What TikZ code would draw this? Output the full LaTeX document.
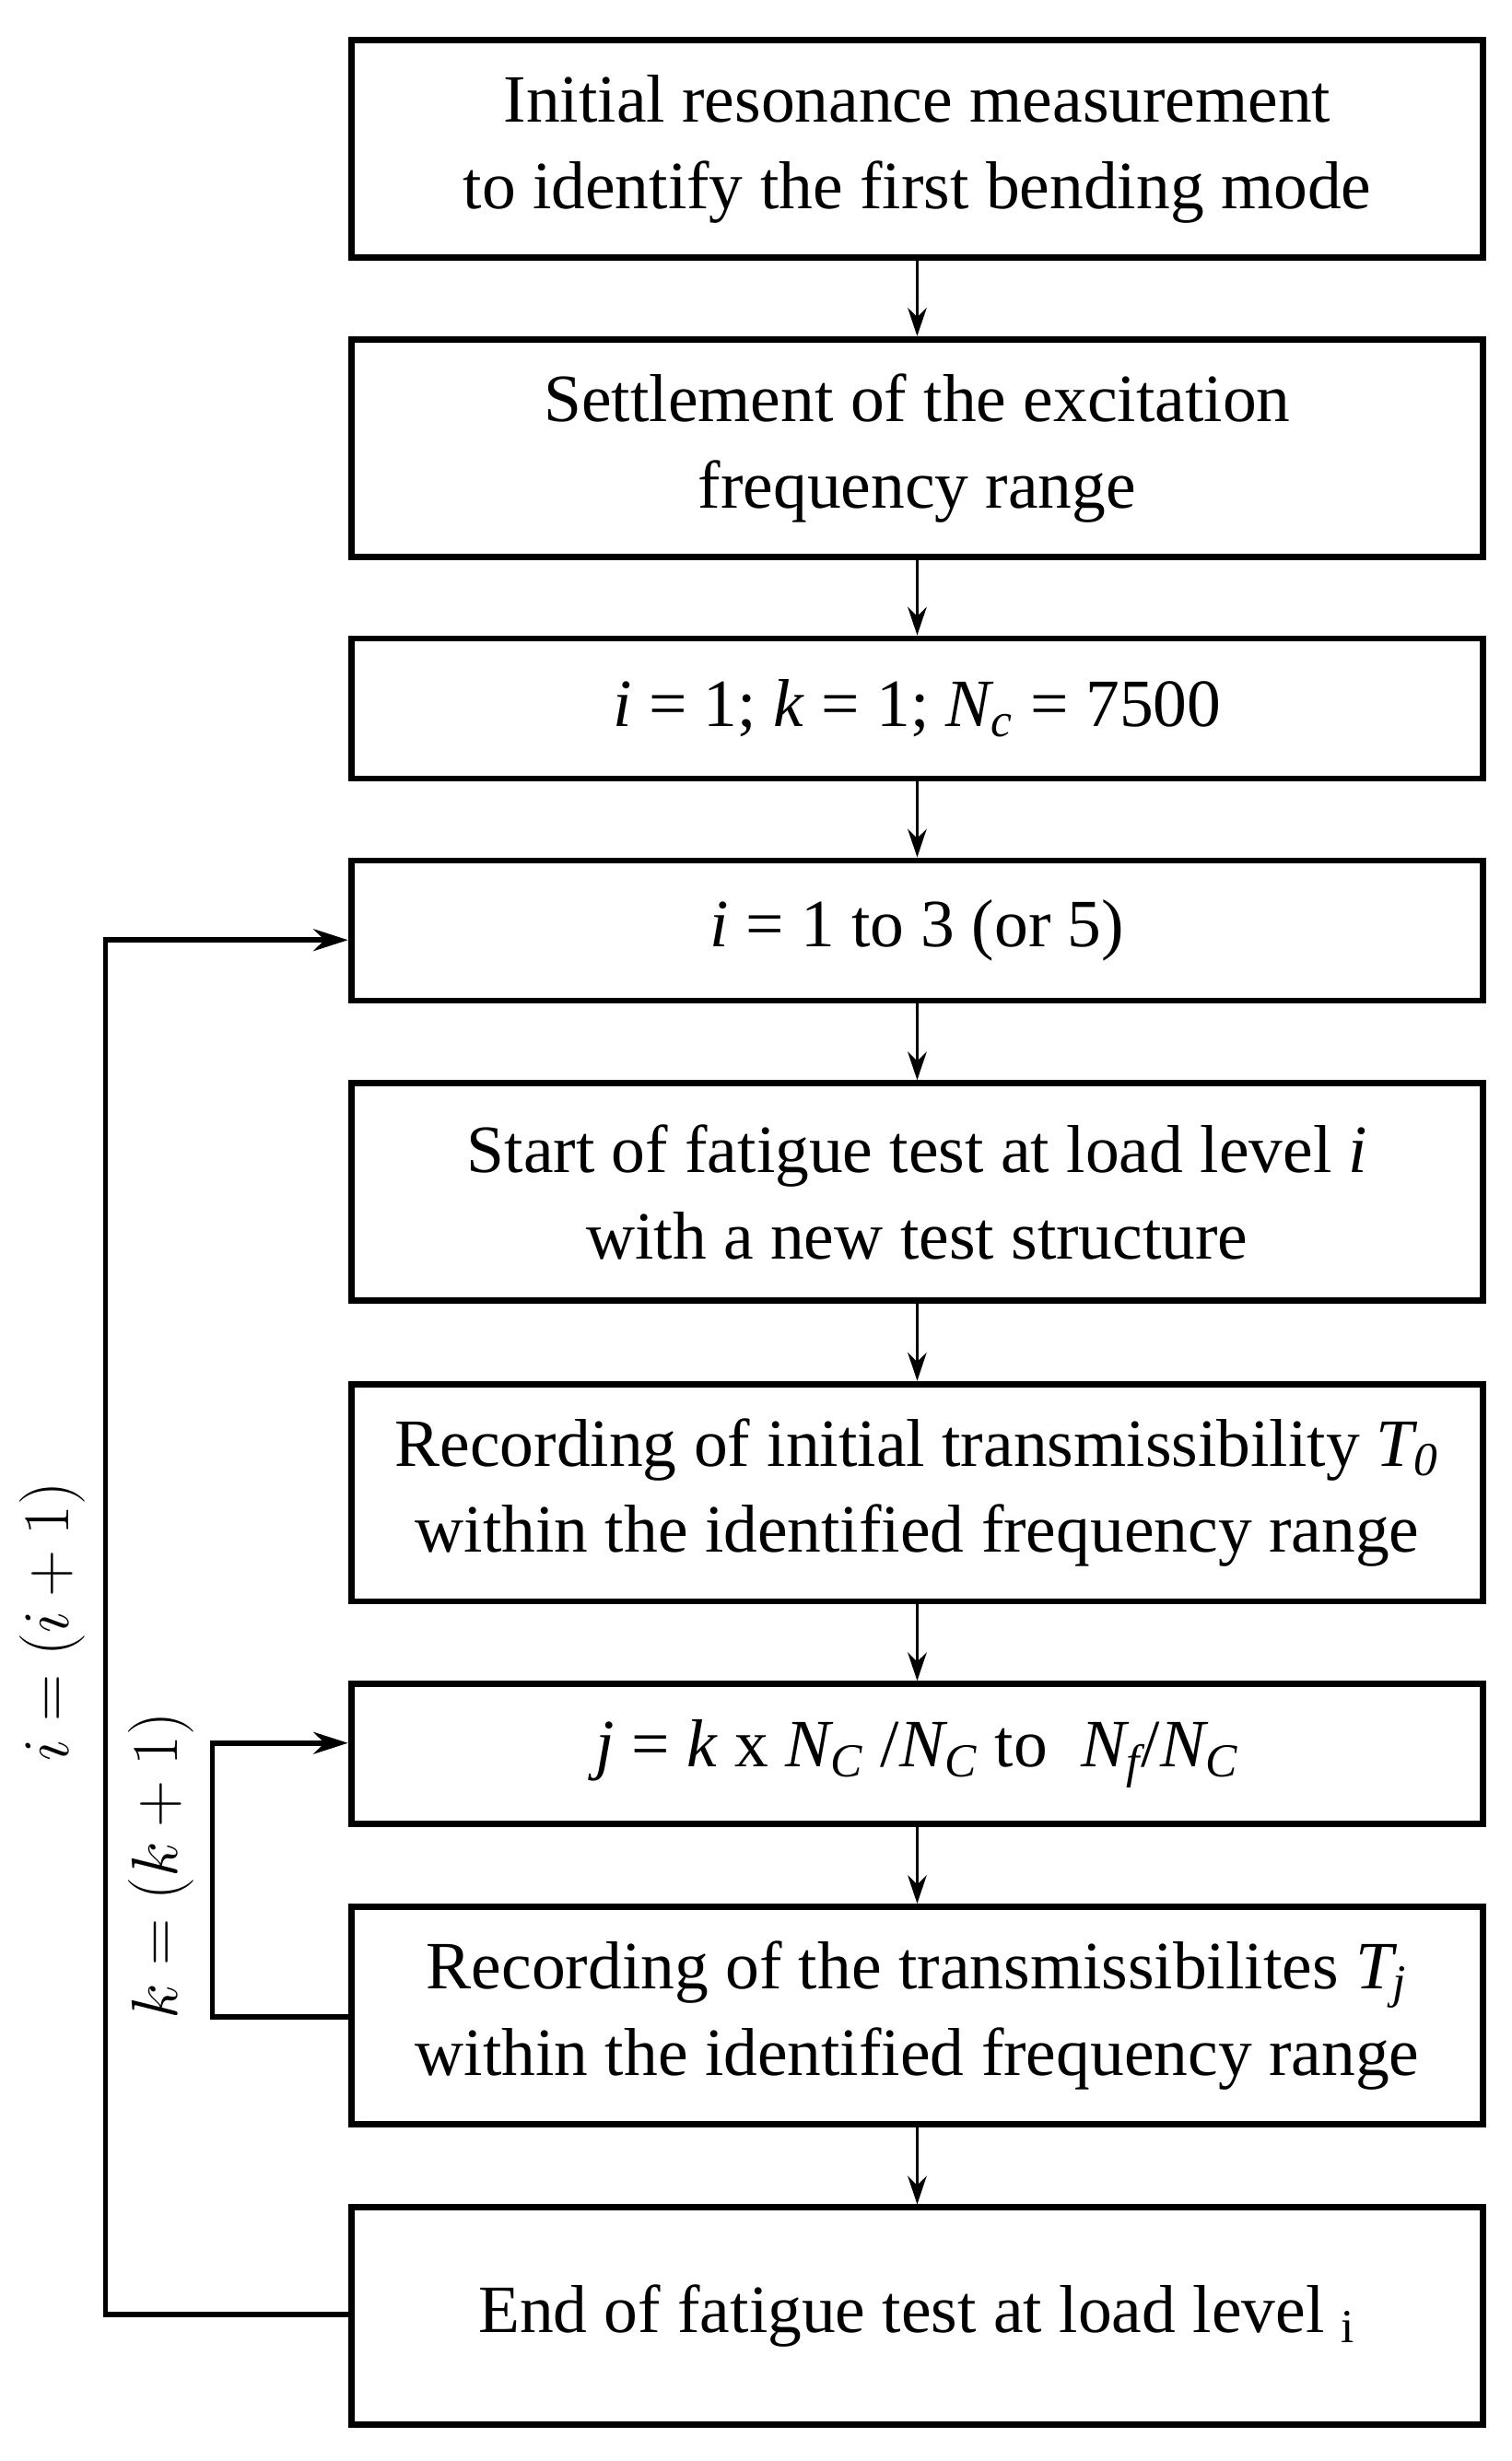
\documentclass[tikz,border=0pt]{standalone}
\usepackage{fontspec}
\setmainfont{Liberation Serif}
\usetikzlibrary{arrows.meta}
\begin{document}
\begin{tikzpicture}[x=0.5pt,y=-0.5pt,
 box/.style={draw,line width=2pt,minimum width=359.5pt,align=center,font=\fontsize{21.5}{27.5}\selectfont,inner sep=0pt},
 tall/.style={box,minimum height=69pt},
 short/.style={box,minimum height=44.5pt},
 arr/.style={-{Stealth[length=9pt,width=6pt]},line width=1pt},
 loop/.style={-{Stealth[length=11pt,width=7pt]},line width=1.6pt},
 lab/.style={font=\fontsize{20}{24}\selectfont,rotate=90}]
\useasboundingbox (0,0) rectangle (960,1563);
\node[tall] (b1) at (582.5,94.5) {Initial resonance measurement\\to identify the first bending mode};
\node[tall] (b2) at (582.5,284.5) {Settlement of the excitation\\frequency range};
\node[short] (b3) at (582.5,450) {\textit{i} = 1; \textit{k} = 1; \textit{N\textsubscript{c}} = 7500};
\node[short] (b4) at (582.5,591) {\textit{i} = 1 to 3 (or 5)};
\node[tall] (b5) at (582.5,757) {Start of fatigue test at load level \textit{i}\\with a new test structure};
\node[tall] (b6) at (582.5,948) {Recording of initial transmissibility \textit{T\textsubscript{0}}\\within the identified frequency range};
\node[short] (b7) at (582.5,1114) {\textit{j} = \textit{k} x \textit{N\textsubscript{C}} /\textit{N\textsubscript{C}} to \ \textit{N\textsubscript{f}}/\textit{N\textsubscript{C}}};
\node[tall] (b8) at (582.5,1280) {Recording of the transmissibilites \textit{T\textsubscript{j}}\\within the identified frequency range};
\node[tall] (b9) at (582.5,1471) {End of fatigue test at load level \textsubscript{i}};
\foreach \a/\b in {b1/b2,b2/b3,b3/b4,b4/b5,b5/b6,b6/b7,b7/b8,b8/b9}
  \draw[arr] (\a.south) -- (\b.north);
\coordinate (l1) at (67,1470); \coordinate (l2) at (67,597);
\draw[loop] (l1 -| b9.west) -- (l1) -- (l2) -- (l2 -| b4.west);
\coordinate (k1) at (135,1281); \coordinate (k2) at (135,1107);
\draw[loop] (k1 -| b8.west) -- (k1) -- (k2) -- (k2 -| b7.west);
\node[lab] (li) at (33,1030) {$i=(i+1)$};
\node[lab] (lk) at (102,1185) {$k=(k+1)$};
\end{tikzpicture}
\end{document}
